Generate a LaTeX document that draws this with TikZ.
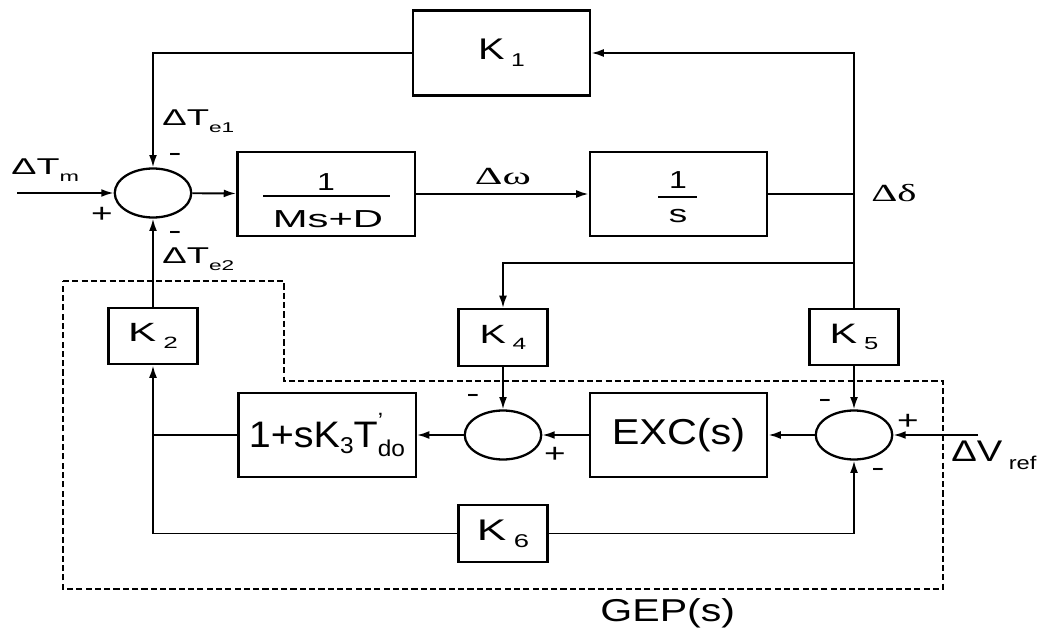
\documentclass[tikz,border=0pt]{standalone}
\usepackage{graphicx}
\usepackage{fontspec}
\setmainfont{Liberation Sans}
\newfontfamily\symf{Liberation Serif}
\usetikzlibrary{arrows.meta,shapes.geometric}
\newcommand\sbs[2][-0.45ex]{\raisebox{#1}{\scalebox{0.62}{#2}}}
\newcommand\fs[1]{\fontsize{#1}{#1}\selectfont}
\newcommand\hs[2]{\scalebox{#1}[1]{#2}}
\begin{document}
\begin{tikzpicture}[x=0.02cm,y=-0.02cm,
  box/.style={draw,line width=1.4pt,inner sep=0pt,align=center},
  wide/.style={box,minimum width=3.55cm,minimum height=1.68cm},
  small/.style={box,minimum width=1.78cm,minimum height=1.13cm},
  sumj/.style={draw,ellipse,line width=1.3pt,minimum width=1.53cm,minimum height=0.98cm,inner sep=0pt},
  arr/.style={-{Latex[length=7pt,width=4.5pt]},line width=1.1pt},
  ln/.style={line width=1.1pt},
  gep/.style={line width=1.3pt,dash pattern=on 3.5pt off 1.8pt},
  lbl/.style={inner sep=0pt},
  sgn/.style={inner sep=0pt,font=\fs{15}}]
\useasboundingbox (0,0) rectangle (1041,628);

% blocks
\node[sumj] (S1) at (153,193) {};
\node[wide] (G1) at (326,194) {};
\node[lbl,font=\fs{14}] (G1n) at (326,182) {\hs{1.3}{1}};
\node[lbl,font=\fs{14}] (G1d) at (328,219) {\hs{1.7}{Ms+D}};
\draw[line width=1.1pt] (263,196) -- (390,196);
\node[wide] (G2) at (678.5,194) {};
\node[lbl,font=\fs{14}] (G2n) at (678,180) {\hs{1.3}{1}};
\node[lbl,font=\fs{14}] (G2d) at (678,216) {\hs{1.5}{s}};
\draw[line width=1.1pt] (658,197) -- (697,197);
\node[wide,minimum height=1.7cm] (K1) at (501.5,53) {\fs{17}\hs{1.33}{K\,\sbs{1}}};
\node[small] (K2) at (153,336) {\fs{15}\hs{1.6}{K\,\sbs{2}}};
\node[small] (K4) at (503,337.5) {\fs{15}\hs{1.5}{K\,\sbs{4}}};
\node[small] (K5) at (854,337) {\fs{16}\hs{1.47}{K\,\sbs{5}}};
\node[small] (K6) at (503,533.5) {\fs{17}\hs{1.48}{K\,\sbs{6}}};
\node[wide] (K3) at (327,435) {\fs{21}\hs{1.07}{1+sK\sbs[-0.3ex]{3}T\rlap{\raisebox{0.95ex}{\scalebox{0.6}{'}}}\sbs[-0.45ex]{do}}};
\node[sumj] (S2) at (503,435) {};
\node[wide] (EXC) at (678.5,435) {\fs{20.5}\hs{1.15}{EXC(s)}};
\node[sumj] (S3) at (854,435) {};

% coordinates
\coordinate (tm) at (17,193);
\coordinate (vr) at (978,435);
\coordinate (br) at (854,263);
\coordinate (dd) at (K5.north |- G2.east);
\coordinate (j1) at (K2.south |- K3.west);
\coordinate (j2) at (K2.south |- K6.west);

% connectors
\draw[arr] (tm) -- (S1);
\draw[arr] (S1) -- (G1);
\draw[arr] (G1) -- (G2);
\draw[ln] (G2.east) -- (dd);
\draw[arr] (K5.north) |- (K1.east);
\draw[arr] (K1.west) -| (S1.north);
\draw[arr] (br) -| (K4.north);
\draw[arr] (K4) -- (S2);
\draw[arr] (K5) -- (S3);
\draw[arr] (S3) -- (EXC);
\draw[arr] (EXC) -- (S2);
\draw[arr] (S2) -- (K3);
\draw[ln] (K3.west) -- (j1);
\draw[ln] (K6.west) -- (j2);
\draw[arr] (j2) -- (K2.south);
\draw[arr] (K6.east) -| (S3.south);
\draw[arr] (K2) -- (S1);
\draw[arr] (vr) -- (S3);

% GEP dashed region
\draw[gep] (63,281) -- (284,281) -- (284,381) -- (943,381) -- (943,589) -- (63,589) -- cycle;
\node[lbl,anchor=west,font=\fs{18}] (gepl) at (600,613) {\hs{1.3}{GEP(s)}};

% labels
\node[lbl,anchor=west,font=\fs{13}] (Ltm) at (11,170) {\hs{1.65}{ΔT\sbs[-0.55ex]{m}}};
\node[lbl,anchor=west,font=\fs{13}] (Lte1) at (162,121) {\hs{1.6}{ΔT\sbs[-0.6ex]{e1}}};
\node[lbl,anchor=west,font=\fs{13}] (Lte2) at (162,259) {\hs{1.6}{ΔT\sbs[-0.6ex]{e2}}};
\node[lbl,font=\fs{14}] (Lw) at (503,177) {\hs{1.75}{\symf Δω}};
\node[lbl,anchor=west,font=\fs{14}] (Ld) at (871,193) {\hs{1.65}{\symf Δδ}};
\node[lbl,anchor=west,font=\fs{17}] (Lvr) at (951,455) {\hs{1.28}{ΔV\,\sbs[-0.5ex]{ref}}};

% signs
\node[sgn] (p1) at (102,215) {\hs{1.4}{+}};
\node[sgn] (m1) at (175,157) {\hs{1.5}{-}};
\node[sgn] (m2) at (175,235) {\hs{1.5}{-}};
\node[sgn] (m3) at (473,398) {\hs{1.5}{-}};
\node[sgn] (p2) at (555,455) {\hs{1.4}{+}};
\node[sgn] (m4) at (825,403) {\hs{1.5}{-}};
\node[sgn] (p3) at (908,422) {\hs{1.4}{+}};
\node[sgn] (m5) at (878,472) {\hs{1.5}{-}};
\end{tikzpicture}
\end{document}
